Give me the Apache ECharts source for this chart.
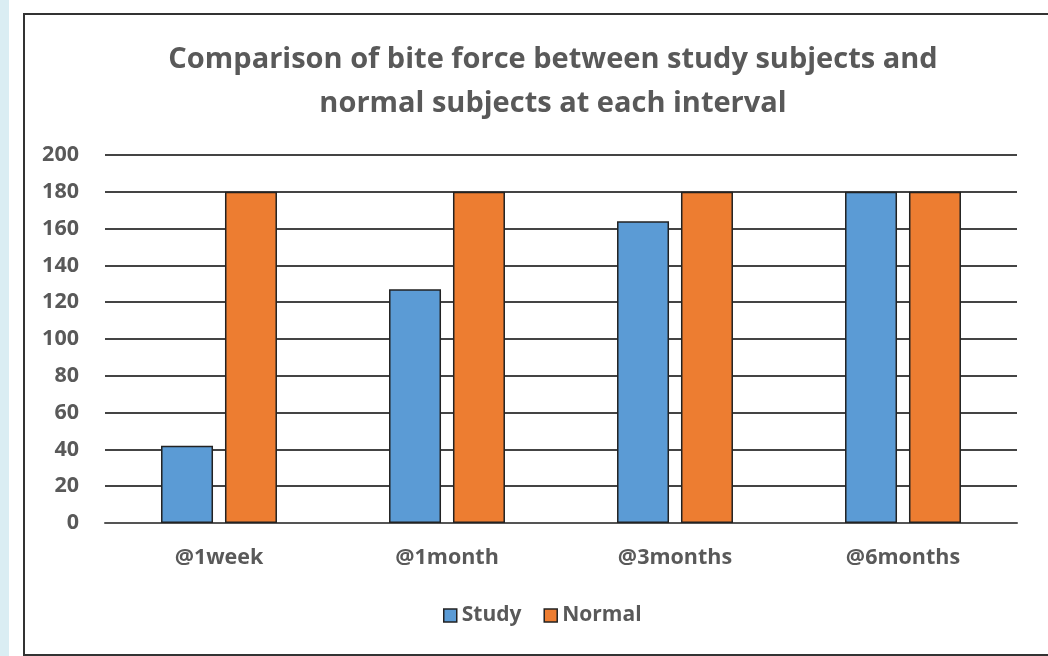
<!DOCTYPE html>
<html><head><meta charset="utf-8">
<script src="https://cdn.jsdelivr.net/npm/echarts@6/dist/echarts.min.js"></script>
<style>html,body{margin:0;padding:0;background:#fff}#c{width:1048px;height:656px}</style>
</head><body><div id="c"></div>
<script>
const categories = ['@1week', '@1month', '@3months', '@6months'];
const studyValues = [42, 127, 164, 180];
const normalValues = [180, 180, 180, 180];
const titleLines = ['Comparison of bite force between study subjects and', 'normal subjects at each interval'];
const seriesNames = ['Study', 'Normal'];

const FONT = '"Open Sans"';
const GRAY = '#595959';
const chart = echarts.init(document.getElementById('c'));
chart.setOption({
  animation: false,
  backgroundColor: '#fff',
  graphic: [
    { type: 'rect', shape: { x: 0, y: 0, width: 9, height: 656 }, style: { fill: '#daedf3' }, silent: true },
    { type: 'rect', shape: { x: 24, y: 14, width: 1040, height: 641 }, style: { fill: 'none', stroke: '#333', lineWidth: 2 }, silent: true }
  ],
  title: {
    text: titleLines.join('\n'),
    left: 548, top: 33, textAlign: 'center',
    textStyle: { fontFamily: FONT, fontWeight: 'bold', fontSize: 29, color: GRAY, lineHeight: 44 }
  },
  legend: {
    data: seriesNames,
    left: 438, top: 600,
    itemWidth: 13, itemHeight: 13, itemGap: 22,
    icon: 'rect',
    textStyle: { fontFamily: FONT, fontWeight: 'bold', fontSize: 21, color: GRAY },
    itemStyle: { borderColor: '#222', borderWidth: 1.5 }
  },
  grid: { left: 105, right: 31, top: 155, bottom: 133, containLabel: false },
  xAxis: {
    type: 'category', data: categories,
    axisLine: { show: true, lineStyle: { color: '#555', width: 2 } },
    axisTick: { show: false },
    axisLabel: { fontFamily: FONT, fontWeight: 'bold', fontSize: 21.5, color: GRAY, margin: 24 }
  },
  yAxis: {
    type: 'value', min: 0, max: 200, interval: 20,
    axisLine: { show: false }, axisTick: { show: false },
    splitLine: { lineStyle: { color: '#444', width: 2 } },
    axisLabel: { fontFamily: FONT, fontWeight: 'bold', fontSize: 21.5, color: GRAY, margin: 26 }
  },
  series: [
    { name: seriesNames[0], type: 'bar', data: studyValues, barWidth: 52, barGap: '23%',
      itemStyle: { color: '#5b9bd5', borderColor: '#222', borderWidth: 1.5 } },
    { name: seriesNames[1], type: 'bar', data: normalValues, barWidth: 52,
      itemStyle: { color: '#ed7d31', borderColor: '#222', borderWidth: 1.5 } }
  ]
});
</script></body></html>
